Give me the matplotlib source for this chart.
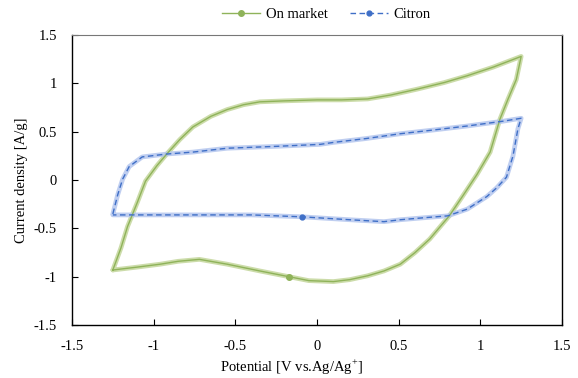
"""CV curves: commercial carbon vs citron-derived carbon."""
import matplotlib
matplotlib.use("Agg")
import matplotlib.pyplot as plt
from matplotlib.ticker import FuncFormatter

plt.rcParams["font.family"] = ["Liberation Serif", "DejaVu Serif"]
plt.rcParams["axes.unicode_minus"] = False
plt.rcParams["mathtext.fontset"] = "custom"
plt.rcParams["mathtext.rm"] = "Liberation Serif"

# On market: anodic sweep then cathodic sweep (closed loop)
market_v = [-1.25, -1.20, -1.16, -1.10, -1.05, -0.98, -0.92, -0.84, -0.76, -0.65, -0.55,
            -0.45, -0.35, -0.20, 0.00, 0.15, 0.31, 0.45, 0.61, 0.78, 0.92, 1.08, 1.25,
            1.22, 1.17, 1.12, 1.06, 0.98, 0.89, 0.81, 0.69, 0.60, 0.51, 0.41, 0.31,
            0.20, 0.10, -0.05, -0.17, -0.35, -0.55, -0.72, -0.85, -0.96, -1.10, -1.25]
market_i = [-0.93, -0.70, -0.48, -0.23, -0.01, 0.15, 0.27, 0.42, 0.55, 0.66, 0.73,
            0.78, 0.81, 0.82, 0.83, 0.83, 0.84, 0.88, 0.94, 1.01, 1.08, 1.17, 1.28,
            1.04, 0.84, 0.63, 0.29, 0.06, -0.17, -0.37, -0.61, -0.75, -0.87, -0.94, -0.99,
            -1.03, -1.05, -1.04, -1.00, -0.94, -0.87, -0.82, -0.84, -0.87, -0.90, -0.93]

# Citron
citron_v = [-1.25, -1.22, -1.19, -1.15, -1.07, -0.92, -0.76, -0.55, -0.24, 0.02, 0.10,
            0.30, 0.51, 0.72, 0.92, 1.14, 1.25,
            1.23, 1.20, 1.16, 1.10, 1.04, 0.92, 0.80, 0.65, 0.51, 0.41, 0.20, -0.09,
            -0.40, -0.80, -1.25]
citron_i = [-0.35, -0.15, 0.01, 0.14, 0.24, 0.27, 0.29, 0.33, 0.35, 0.37, 0.39,
            0.43, 0.48, 0.52, 0.56, 0.61, 0.64,
            0.53, 0.25, 0.03, -0.08, -0.17, -0.30, -0.37, -0.39, -0.41, -0.43, -0.41, -0.38,
            -0.36, -0.36, -0.36]

x_ticks = [-1.5, -1, -0.5, 0, 0.5, 1, 1.5]
y_ticks = [-1.5, -1, -0.5, 0, 0.5, 1, 1.5]

GREEN, GREEN_LT = "#8fb35a", "#c3d69b"
BLUE, BLUE_LT = "#3f6fc7", "#b4c6ee"

fig = plt.figure(figsize=(5.78, 3.78), dpi=100)
ax = fig.add_axes([0.1246, 0.140, 0.8477, 0.767])

# pale thick band under each curve (the error-bar look of the original)
ax.plot(market_v, market_i, color=GREEN_LT, lw=3.4, alpha=0.85, solid_capstyle="round", zorder=2)
ax.plot(citron_v, citron_i, color=BLUE_LT, lw=3.4, alpha=0.85, solid_capstyle="round", zorder=2)
ax.plot(market_v, market_i, color=GREEN, lw=1.0, marker="o", ms=4, markevery=[38],
        label="On market", zorder=3)
ax.plot(citron_v, citron_i, color=BLUE, lw=1.0, ls=(0, (4, 2.5)), marker="o", ms=3.5,
        markevery=[28], label="Citron", zorder=3)

ax.set_xlim(-1.5, 1.5)
ax.set_ylim(-1.5, 1.5)
ax.set_xticks(x_ticks)
ax.set_yticks(y_ticks)
fmt = FuncFormatter(lambda v, _: f"{v:g}")
ax.xaxis.set_major_formatter(fmt)
ax.yaxis.set_major_formatter(fmt)
ax.tick_params(direction="in", length=4, width=0.8, labelsize=10.5)
ax.tick_params(axis="x", pad=11)
ax.tick_params(axis="y", pad=11)
for side in ["left", "bottom", "right"]:
    ax.spines[side].set_color("black")
    ax.spines[side].set_linewidth(1.0)
ax.spines["top"].set_color("#777777")

ax.set_xlabel("Potential [V vs.Ag/Ag$^{+}$]", fontsize=10.5)
ax.set_ylabel("Current density [A/g]", fontsize=10.5)
ax.xaxis.set_label_coords(0.449, -0.112)
ax.yaxis.set_label_coords(-0.09, 0.5)

handles, labels = ax.get_legend_handles_labels()
fig.legend(handles, labels, loc="center", bbox_to_anchor=(0.565, 0.962), ncol=2,
           frameon=False, fontsize=10.5, handlelength=2.6, columnspacing=1.5,
           handletextpad=0.4)

fig.savefig("out.png", dpi=100)
